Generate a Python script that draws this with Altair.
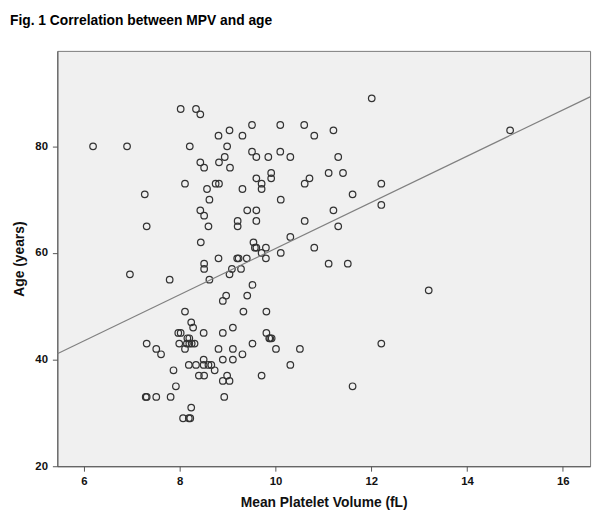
import altair as alt
import pandas as pd

mpv = [
    8.02, 8.34, 8.43, 12.01,
    9.51, 10.10, 10.60,
    9.04, 11.21, 14.90,
    8.81, 9.31, 10.81,
    6.19, 6.90, 8.21, 8.99,
    9.51, 10.10,
    8.94, 9.60, 9.85, 10.31, 11.31,
    8.43, 8.82,
    8.51, 9.05,
    9.91, 11.11, 11.41,
    9.60, 9.91, 10.71,
    8.11, 8.75, 8.82, 9.71, 10.61, 12.21,
    8.57, 9.31, 9.71,
    7.27, 11.61,
    8.62, 10.11,
    12.21,
    8.43, 9.41, 9.60, 11.21,
    8.51,
    9.21, 9.60, 10.61,
    7.31, 8.60, 9.21, 11.31,
    10.31,
    8.44, 9.54,
    9.57, 9.60, 9.80, 10.81,
    9.71, 10.11,
    8.81, 9.20, 9.23, 9.40, 9.80,
    8.51, 11.11, 11.51,
    8.51, 9.09, 9.28,
    6.96, 9.04,
    7.79, 8.62,
    9.52,
    13.20,
    8.97, 9.41,
    8.90,
    8.11, 9.33, 9.81,
    8.24,
    8.28, 9.11,
    7.97, 8.02, 8.50, 8.90, 9.81,
    8.16, 8.20, 9.87, 9.89, 9.92,
    7.31, 7.99, 8.15, 8.20, 8.25, 8.31, 9.52, 12.21,
    7.51, 8.11, 8.81, 9.11, 10.01, 10.51,
    7.61, 9.31,
    8.50, 8.90, 9.11,
    8.19, 8.34, 8.50, 8.60, 8.66, 10.31,
    7.87, 8.73,
    8.40, 8.51, 8.99, 9.71,
    8.90, 9.04,
    7.92, 11.61,
    7.29, 7.31, 7.51, 7.81, 8.93,
    8.24,
    8.07, 8.19, 8.22,
]
age = [
    87, 87, 86, 89,
    84, 84, 84,
    83, 83, 83,
    82, 82, 82,
    80, 80, 80, 80,
    79, 79,
    78, 78, 78, 78, 78,
    77, 77,
    76, 76,
    75, 75, 75,
    74, 74, 74,
    73, 73, 73, 73, 73, 73,
    72, 72, 72,
    71, 71,
    70, 70,
    69,
    68, 68, 68, 68,
    67,
    66, 66, 66,
    65, 65, 65, 65,
    63,
    62, 62,
    61, 61, 61, 61,
    60, 60,
    59, 59, 59, 59, 59,
    58, 58, 58,
    57, 57, 57,
    56, 56,
    55, 55,
    54,
    53,
    52, 52,
    51,
    49, 49, 49,
    47,
    46, 46,
    45, 45, 45, 45, 45,
    44, 44, 44, 44, 44,
    43, 43, 43, 43, 43, 43, 43, 43,
    42, 42, 42, 42, 42, 42,
    41, 41,
    40, 40, 40,
    39, 39, 39, 39, 39, 39,
    38, 38,
    37, 37, 37, 37,
    36, 36,
    35, 35,
    33, 33, 33, 33, 33,
    31,
    29, 29, 29,
]

x_domain = [5.444, 16.57]
y_domain = [20, 97.9]
x_ticks = [6, 8, 10, 12, 14, 16]
y_ticks = [20, 40, 60, 80]
reg_intercept = 17.53
reg_slope = 4.33

pts = pd.DataFrame({"mpv": mpv, "age": age})
fit = pd.DataFrame({"mpv": x_domain})
fit["age"] = reg_intercept + reg_slope * fit["mpv"]

x_enc = alt.X("mpv:Q", scale=alt.Scale(domain=x_domain, nice=False, zero=False),
              axis=alt.Axis(values=x_ticks, title="Mean Platelet Volume (fL)",
                            titlePadding=8, labelPadding=5))
y_enc = alt.Y("age:Q", scale=alt.Scale(domain=y_domain, nice=False, zero=False),
              axis=alt.Axis(values=y_ticks, title="Age (years)",
                            titlePadding=8, labelPadding=5))

points = alt.Chart(pts).mark_point(
    shape="circle", filled=False, size=44, strokeWidth=1.25, color="#333333", opacity=1
).encode(x=x_enc, y=y_enc)

line = alt.Chart(fit).mark_line(color="#808080", strokeWidth=1.2, clip=True).encode(
    x="mpv:Q", y="age:Q"
)

chart = (points + line).properties(
    width=540,
    height=421,
    autosize=alt.AutoSizeParams(type="none"),
    padding={"left": 50, "top": 40, "right": 6, "bottom": 50},
    title=alt.TitleParams(
        "Fig. 1 Correlation between MPV and age",
        anchor="start", frame="group", dx=-48, offset=12, baseline="alphabetic",
        font="Liberation Sans", fontSize=14, fontWeight="bold", color="#000000",
    ),
    background="#ffffff",
).configure_view(
    fill="#f0f0f0", stroke="#7a7a7a", strokeWidth=1
).configure_axis(
    grid=False, domainColor="#555555", tickColor="#555555", tickSize=5,
    labelFont="Liberation Sans", labelFontSize=11.5, labelFontWeight="bold",
    labelColor="#111111", titleFont="Liberation Sans", titleFontSize=14,
    titleFontWeight="bold", titleColor="#111111",
)

chart.save("out.html", embed_options={"renderer": "svg", "actions": False})
